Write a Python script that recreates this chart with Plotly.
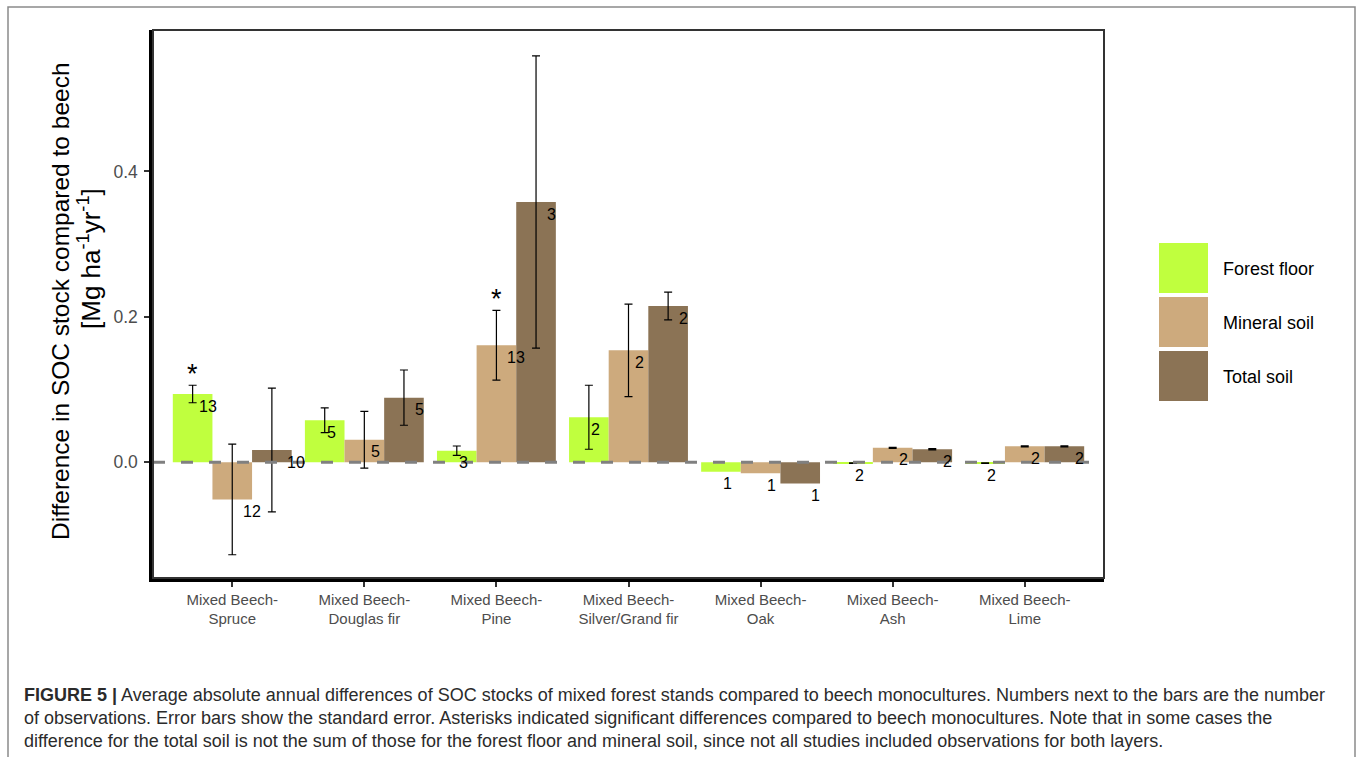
import plotly.graph_objects as go

# ---- data -------------------------------------------------------------
categories = [
    "Mixed Beech-<br>Spruce",
    "Mixed Beech-<br>Douglas fir",
    "Mixed Beech-<br>Pine",
    "Mixed Beech-<br>Silver/Grand fir",
    "Mixed Beech-<br>Oak",
    "Mixed Beech-<br>Ash",
    "Mixed Beech-<br>Lime",
]
layers = ["Forest floor", "Mineral soil", "Total soil"]
colors = ["#C0FF3E", "#CDAA7D", "#8B7355"]

forest_floor_mean = [0.094, 0.058, 0.016, 0.062, -0.013, -0.001, -0.001]
forest_floor_se = [0.012, 0.017, 0.0065, 0.044, None, 0.0005, 0.0005]
forest_floor_n = [13, 5, 3, 2, 1, 2, 2]

mineral_soil_mean = [-0.051, 0.031, 0.161, 0.154, -0.015, 0.020, 0.022]
mineral_soil_se = [0.076, 0.039, 0.048, 0.0635, None, 0.0008, 0.0008]
mineral_soil_n = [12, 5, 13, 2, 1, 2, 2]

total_soil_mean = [0.017, 0.089, 0.358, 0.215, -0.029, 0.018, 0.022]
total_soil_se = [0.085, 0.038, 0.201, 0.019, None, 0.0008, 0.0008]
total_soil_n = [10, 5, 3, 2, 1, 2, 2]

# significant differences: (layer index, category index)
significant = [(0, 0), (1, 2)]

y_ticks = [0.0, 0.2, 0.4]
y_tick_labels = ["0.0", "0.2", "0.4"]

y_title_lines = [
    "Difference in SOC stock compared to beech",
    "[Mg ha<sup>-1</sup>yr<sup>-1</sup>]",
]

caption_lines = [
    "<b>FIGURE 5 |</b> Average absolute annual differences of SOC stocks of mixed forest stands compared to beech monocultures. Numbers next to the bars are the number",
    "of observations. Error bars show the standard error. Asterisks indicated significant differences compared to beech monocultures. Note that in some cases the",
    "difference for the total soil is not the sum of those for the forest floor and mineral soil, since not all studies included observations for both layers.",
]

means = [forest_floor_mean, mineral_soil_mean, total_soil_mean]
ses = [forest_floor_se, mineral_soil_se, total_soil_se]
counts = [forest_floor_n, mineral_soil_n, total_soil_n]

# ---- layout geometry (pixels) ------------------------------------------
W, H = 1357, 757
PL, PR, PT, PB = 153, 1104, 30, 578


def xp(px):
    return (px - PL) / (PR - PL)


def yp(py):
    return (PB - py) / (PB - PT)


x_pos = list(range(len(categories)))

fig = go.Figure()
for k, name in enumerate(layers):
    # single observations have no standard error: "NaN" makes plotly.js skip the whisker
    err = ["NaN" if v is None else v for v in ses[k]]
    fig.add_trace(go.Bar(
        x=x_pos,
        y=means[k],
        name=name,
        marker=dict(color=colors[k], line=dict(width=0)),
        error_y=dict(type="data", array=err, visible=True,
                     color="black", thickness=1.2, width=4),
        showlegend=False,
    ))

annotations = []
# observation counts next to the bars
for k in range(len(layers)):
    for i in x_pos:
        txt = str(counts[k][i])
        annotations.append(dict(
            x=i + (k - 1) / 3, y=means[k][i], xref="x", yref="y",
            text=txt, showarrow=False, xanchor="left", yanchor="top",
            xshift=4.5 * len(txt), yshift=-1.5,
            font=dict(size=16, color="black"),
        ))

# significance asterisks
for k, i in significant:
    annotations.append(dict(
        x=i + (k - 1) * 0.3, y=means[k][i] + ses[k][i], xref="x", yref="y",
        text="*", showarrow=False, xanchor="center", yanchor="bottom",
        yshift=-6, font=dict(size=27, color="black"),
    ))

# y-axis title, two lines
for j, (cx, cy, fs) in enumerate([(60, 301, 24.5), (89, 259, 26)]):
    annotations.append(dict(
        x=xp(cx), y=yp(cy), xref="paper", yref="paper",
        text=y_title_lines[j], textangle=-90, showarrow=False,
        xanchor="center", yanchor="middle",
        font=dict(size=fs, color="black"),
    ))

shapes = []
# legend keys
for k, name in enumerate(layers):
    top = 243 + 54 * k
    shapes.append(dict(type="rect", xref="paper", yref="paper",
                       x0=xp(1159), x1=xp(1208), y0=yp(top + 50), y1=yp(top),
                       fillcolor=colors[k], line=dict(width=0), layer="above"))
    annotations.append(dict(
        x=xp(1221), y=yp(top + 26), xref="paper", yref="paper",
        text=name, showarrow=False, xanchor="left", yanchor="middle",
        font=dict(size=18, color="black"),
    ))

# caption
for j, line in enumerate(caption_lines):
    annotations.append(dict(
        x=xp(22), y=yp(695 + 23 * j), xref="paper", yref="paper",
        text=line, showarrow=False, xanchor="left", yanchor="middle",
        font=dict(size=18, color="#2b2b2b"),
    ))

# dashed zero reference line
shapes.append(dict(type="line", xref="paper", yref="y", x0=0, x1=1, y0=0, y1=0,
                   line=dict(color="#808080", width=3, dash="12px,16px"),
                   layer="above"))
# panel border
shapes.append(dict(type="rect", xref="paper", yref="paper", x0=0, x1=1, y0=0, y1=1,
                   line=dict(color="#333333", width=2), layer="above"))
# outer figure frame
shapes.append(dict(type="rect", xref="paper", yref="paper",
                   x0=xp(8), x1=xp(1355), y0=yp(765), y1=yp(7),
                   line=dict(color="#8a8a8a", width=1.5), layer="above"))

fig.update_layout(
    width=W, height=H,
    margin=dict(l=PL, r=W - PR, t=PT, b=H - PB, pad=0),
    paper_bgcolor="white", plot_bgcolor="white",
    barmode="group", bargap=0.1, bargroupgap=0,
    font=dict(family="Liberation Sans, Arial, sans-serif"),
    annotations=annotations, shapes=shapes,
    xaxis=dict(
        range=[-0.6, 6.6], tickmode="array", tickvals=x_pos, ticktext=categories,
        ticks="outside", ticklen=5, tickwidth=1.5, tickcolor="#333333",
        showline=True, linecolor="black", linewidth=3.5,
        showgrid=False, zeroline=False,
        tickfont=dict(size=15, color="#4D4D4D"),
    ),
    yaxis=dict(
        range=[-0.159, 0.5945], tickmode="array", tickvals=y_ticks, ticktext=y_tick_labels,
        ticks="outside", ticklen=5, tickwidth=1.5, tickcolor="#333333",
        showline=True, linecolor="black", linewidth=3.5,
        showgrid=False, zeroline=False, ticklabelstandoff=3,
        tickfont=dict(size=17.5, color="#4D4D4D"),
    ),
)

fig.write_html("out.html")
